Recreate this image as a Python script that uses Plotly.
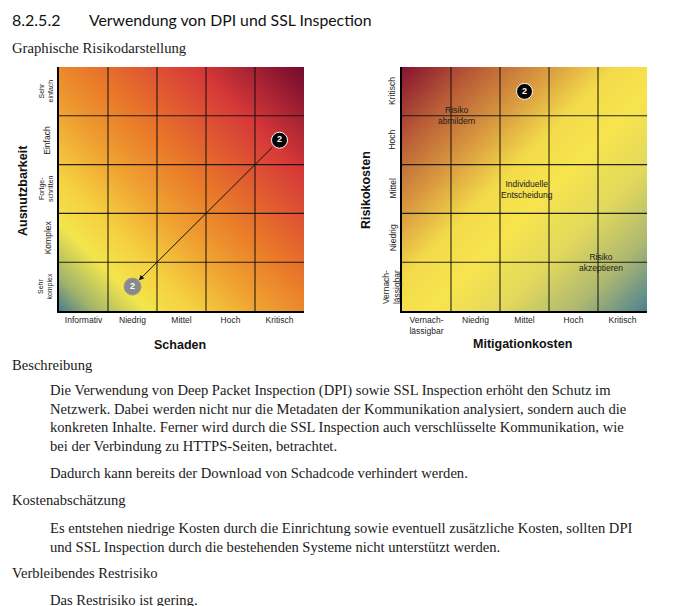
import numpy as np
import plotly.graph_objects as go

# ---------------- data ----------------
schaden_labels = ["Informativ", "Niedrig", "Mittel", "Hoch", "Kritisch"]
ausnutz_labels = ["Sehr<br>komplex", "Komplex", "Fortge-<br>schritten", "Einfach", "Sehr<br>einfach"]
mitigation_labels = ["Vernach-<br>lässigbar", "Niedrig", "Mittel", "Hoch", "Kritisch"]
risikokosten_labels = ["Vernach-<br>lässigbar", "Niedrig", "Mittel", "Hoch", "Kritisch"]

risk_ids = ["2"]
before_schaden = ["Kritisch"]
before_ausnutz = ["Einfach"]
after_schaden = ["Niedrig"]
after_ausnutz = ["Sehr<br>komplex"]

mitig_cost = ["Mittel"]
risk_cost = ["Kritisch"]

zone_texts = ["Risiko<br>abmildern", "Individuelle<br>Entscheidung", "Risiko<br>akzeptieren"]
zone_x = [1.13, 2.56, 4.06]
zone_y = [4.0, 2.5, 1.0]

heading_num = "8.2.5.2"
heading_text = "Verwendung von DPI und SSL Inspection"
subheading = "Graphische Risikodarstellung"
body_lines = [
    ("h", "Beschreibung"),
    ("p", "Die Verwendung von Deep Packet Inspection (DPI) sowie SSL Inspection erhöht den Schutz im"),
    ("p", "Netzwerk. Dabei werden nicht nur die Metadaten der Kommunikation analysiert, sondern auch die"),
    ("p", "konkreten Inhalte. Ferner wird durch die SSL Inspection auch verschlüsselte Kommunikation, wie"),
    ("p", "bei der Verbindung zu HTTPS-Seiten, betrachtet."),
    ("p", "Dadurch kann bereits der Download von Schadcode verhindert werden."),
    ("h", "Kostenabschätzung"),
    ("p", "Es entstehen niedrige Kosten durch die Einrichtung sowie eventuell zusätzliche Kosten, sollten DPI"),
    ("p", "und SSL Inspection durch die bestehenden Systeme nicht unterstützt werden."),
    ("h", "Verbleibendes Restrisiko"),
    ("p", "Das Restrisiko ist gering."),
]
body_y = [365, 390, 408.5, 427, 445.5, 473, 500.5, 528, 546.5, 573, 600]

# ---------------- layout helpers ----------------
OFF = 8                      # page body margin of the html page
W, H = 691 - OFF, 606 - OFF  # figure size so it fits the window
def px(x): return (x - OFF) / W
def py(y): return 1 - (y - OFF) / H

L_X = (59, 304)
R_X = (402, 647)
P_Y = (67, 311)

left_scale = [[0.0, "#4a7b8e"], [0.07, "#9fb36c"], [0.18, "#f3e54c"], [0.28, "#f5d040"],
              [0.42, "#ef9f30"], [0.55, "#e97a2a"], [0.78, "#d63838"], [1.0, "#720a2e"]]
right_scale = [[0.0, "#861430"], [0.15, "#b85a36"], [0.3, "#d99a40"],
               [0.43, "#f3da4a"], [0.55, "#f7e44e"], [0.7, "#e2d95c"],
               [0.85, "#adb870"], [1.0, "#4a8093"]]

g = np.linspace(0, 5, 101)
GX, GY = np.meshgrid(g, g)

fig = go.Figure()
fig.add_trace(go.Heatmap(x=g, y=g, z=(GX + GY) / 10, colorscale=left_scale,
                         zmin=0, zmax=1, zsmooth="best", showscale=False,
                         hoverinfo="skip", xaxis="x", yaxis="y"))
fig.add_trace(go.Heatmap(x=g, y=g, z=(GX + (5 - GY)) / 10, colorscale=right_scale,
                         zmin=0, zmax=1, zsmooth="best", showscale=False,
                         hoverinfo="skip", xaxis="x2", yaxis="y2"))

def pos(labels, vals):
    return [labels.index(v) + 0.5 for v in vals]

bx, by = pos(schaden_labels, before_schaden), pos(ausnutz_labels, before_ausnutz)
ax_, ay_ = pos(schaden_labels, after_schaden), pos(ausnutz_labels, after_ausnutz)
rx, ry = pos(mitigation_labels, mitig_cost), pos(risikokosten_labels, risk_cost)

mk_font = dict(family="Liberation Sans", size=9, color="white", weight="bold")
fig.add_trace(go.Scatter(x=bx, y=by, mode="markers+text", text=risk_ids,
                         textposition="middle center", textfont=mk_font,
                         marker=dict(size=16, color="#050505", line=dict(color="white", width=1)),
                         xaxis="x", yaxis="y", showlegend=False, hoverinfo="skip"))
fig.add_trace(go.Scatter(x=ax_, y=ay_, mode="markers+text", text=risk_ids,
                         textposition="middle center", textfont=mk_font,
                         marker=dict(size=17, color="#8a8a8a", line=dict(color="#9a9a9a", width=1)),
                         xaxis="x", yaxis="y", showlegend=False, hoverinfo="skip"))
fig.add_trace(go.Scatter(x=rx, y=ry, mode="markers+text", text=risk_ids,
                         textposition="middle center", textfont=mk_font,
                         marker=dict(size=16, color="#050505", line=dict(color="white", width=1)),
                         xaxis="x2", yaxis="y2", showlegend=False, hoverinfo="skip"))

tick_font = dict(family="Liberation Sans", size=8.5, color="#222222")
def xax(dom, labels):
    return dict(domain=[px(dom[0]), px(dom[1])], range=[0, 5], showgrid=False,
                zeroline=False, showline=True, linecolor="black", linewidth=2,
                tickmode="array", tickvals=[i + 0.5 for i in range(5)], ticktext=labels,
                ticks="", tickfont=tick_font, fixedrange=True)
def yax(anchor):
    return dict(domain=[py(P_Y[1]), py(P_Y[0])], range=[0, 5], showgrid=False,
                zeroline=False, showline=True, linecolor="black", linewidth=2,
                showticklabels=False, ticks="", anchor=anchor, fixedrange=True)

fig.update_layout(
    width=W, height=H, margin=dict(l=0, r=0, t=0, b=0),
    paper_bgcolor="white", plot_bgcolor="white", showlegend=False,
    xaxis=dict(**xax(L_X, schaden_labels), anchor="y"),
    yaxis=yax("x"),
    xaxis2=dict(**xax(R_X, mitigation_labels), anchor="y2"),
    yaxis2=yax("x2"),
)

shapes = []
for xr, yr in (("x", "y"), ("x2", "y2")):
    for k in range(1, 5):
        shapes.append(dict(type="line", xref=xr, yref=yr, x0=k, x1=k, y0=0, y1=5,
                           line=dict(color="rgba(15,15,15,0.9)", width=1.1), layer="above"))
        shapes.append(dict(type="line", xref=xr, yref=yr, x0=0, x1=5, y0=k, y1=k,
                           line=dict(color="rgba(15,15,15,0.9)", width=1.1), layer="above"))
fig.update_layout(shapes=shapes)

ann = []
# arrow from before to after
ann.append(dict(x=ax_[0], y=ay_[0], ax=bx[0], ay=by[0], xref="x", yref="y",
                axref="x", ayref="y", text="", showarrow=True, arrowhead=2,
                arrowsize=1, arrowwidth=1, arrowcolor="#111111", standoff=9, startstandoff=8))

# y tick labels (rotated)
for i, lab in enumerate(ausnutz_labels):
    two = "<br>" in lab
    ann.append(dict(x=px(46 if two else 47.5), y=i + 0.5, xref="paper", yref="y",
                    text=lab, textangle=-90, showarrow=False, xanchor="center", yanchor="middle",
                    font=dict(family="Liberation Sans", size=7 if two else 8.5, color="#222222")))
for i, lab in enumerate(risikokosten_labels):
    ann.append(dict(x=px(391.5 if "<br>" in lab else 392.5), y=i + 0.5, xref="paper", yref="y2",
                    text=lab, textangle=-90, showarrow=False, xanchor="center", yanchor="middle",
                    font=dict(family="Liberation Sans", size=8.5, color="#222222")))

# zone labels
for t, zx, zy in zip(zone_texts, zone_x, zone_y):
    ann.append(dict(x=zx, y=zy, xref="x2", yref="y2", text=t, showarrow=False,
                    xanchor="center", yanchor="middle",
                    font=dict(family="Liberation Sans", size=8.5, color="#1a1a1a")))

# axis titles
title_font = dict(family="Liberation Sans", size=12.5, color="#111111", weight="bold")
for txt, xx, yy, ang in (("Schaden", 180, 345, 0), ("Mitigationkosten", 522, 344, 0),
                         ("Ausnutzbarkeit", 23, 191, -90), ("Risikokosten", 366, 190, -90)):
    ann.append(dict(x=px(xx), y=py(yy), xref="paper", yref="paper", text=txt,
                    textangle=ang, showarrow=False, xanchor="center", yanchor="middle",
                    font=title_font))

# document text
ann.append(dict(x=px(10), y=py(20), xref="paper", yref="paper", text=heading_num,
                showarrow=False, xanchor="left", yanchor="middle",
                font=dict(family="Lato", size=16, color="#111111")))
ann.append(dict(x=px(87), y=py(20), xref="paper", yref="paper", text=heading_text,
                showarrow=False, xanchor="left", yanchor="middle",
                font=dict(family="Lato", size=15.8, color="#111111")))
ann.append(dict(x=px(10), y=py(48), xref="paper", yref="paper", text=subheading,
                showarrow=False, xanchor="left", yanchor="middle",
                font=dict(family="Liberation Serif", size=14.7, color="#1a1a1a")))
for (kind, txt), yy in zip(body_lines, body_y):
    ann.append(dict(x=px(10 if kind == "h" else 48), y=py(yy), xref="paper", yref="paper",
                    text=txt, showarrow=False, xanchor="left", yanchor="middle",
                    font=dict(family="Liberation Serif", size=14.6, color="#1a1a1a")))

fig.update_layout(annotations=ann)
fig.write_html("out.html")
